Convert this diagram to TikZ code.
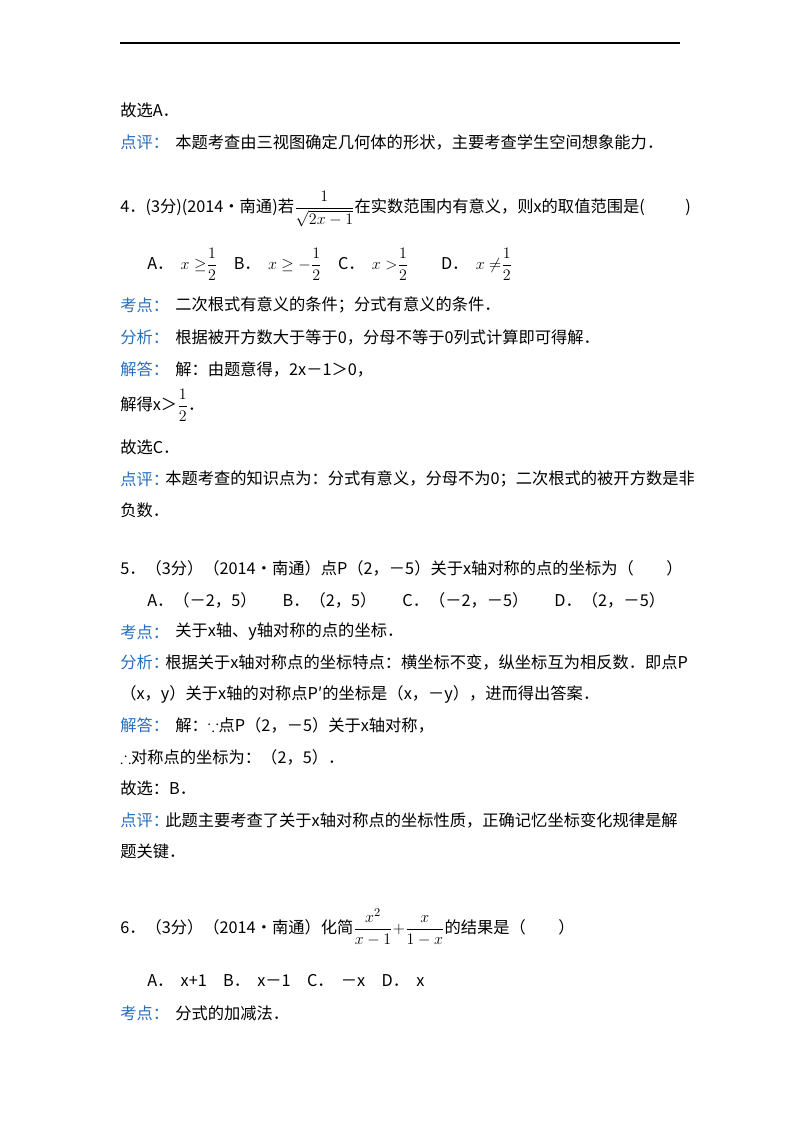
\documentclass[tikz,border=0pt]{standalone}
\usepackage{amsmath,amssymb}
\usepackage{fontspec}
\setmainfont{Noto Sans CJK SC}
\definecolor{kd}{RGB}{40,110,190}
\newcommand{\fr}[2]{\raisebox{0pt}{$\dfrac{#1}{#2}$}}
\begin{document}
\begin{tikzpicture}[x=0.75pt,y=-0.75pt,
  t/.style={anchor=west,inner sep=0pt,font=\fontsize{12.2}{14}\selectfont},
  k/.style={t,text=kd}]
\useasboundingbox (0,0) rectangle (800,1132);
\draw[line width=0.8pt] (120,43) coordinate (l1) -- (680,43) coordinate (l2);
\node[t] (a1) at (120,110) {故选A．};
\node[k] (a2) at (120,142) {点评：};
\node[t] (a3) at (175,142) {本题考查由三视图确定几何体的形状，主要考查学生空间想象能力．};
\node[t] (b1) at (120,209) {4．(3分)(2014•南通)若\fr{1}{\sqrt{2x-1}}在实数范围内有意义，则x的取值范围是(\hspace{2.5em})};
\node[t] (b2) at (147,264) {A．\ \ $x\geq$\fr12\quad B．\ \ $x\geq-$\fr12\quad C．\ \ $x>$\fr12\qquad D．\ \ $x\neq$\fr12};
\node[k] (b3) at (120,305) {考点：};
\node[t] (b4) at (175,305) {二次根式有意义的条件；分式有意义的条件．};
\node[k] (b5) at (120,337) {分析：};
\node[t] (b6) at (175,337) {根据被开方数大于等于0，分母不等于0列式计算即可得解．};
\node[k] (b7) at (120,369) {解答：};
\node[t] (b8) at (175,369) {解：由题意得，2x－1＞0，};
\node[t] (b9) at (120,405) {解得x＞\fr12．};
\node[t] (b10) at (120,447) {故选C．};
\node[k] (b11) at (120,479) {点评：};
\node[t] (b12) at (165,479) {本题考查的知识点为：分式有意义，分母不为0；二次根式的被开方数是非};
\node[t] (b13) at (120,510) {负数．};
\node[t] (c1) at (120,568) {5．（3分）（2014•南通）点P（2，－5）关于x轴对称的点的坐标为（\hspace{2em}）};
\node[t] (c2) at (147,600) {A．（－2，5）\hspace{1.6em}B．（2，5）\hspace{1.6em}C．（－2，－5）\hspace{1.6em}D．（2，－5）};
\node[k] (c3) at (120,632) {考点：};
\node[t] (c4) at (175,632) {关于x轴、y轴对称的点的坐标．};
\node[k] (c5) at (120,662) {分析：};
\node[t] (c6) at (165,662) {根据关于x轴对称点的坐标特点：横坐标不变，纵坐标互为相反数．即点P};
\node[t] (c7) at (120,694) {（x，y）关于x轴的对称点P′的坐标是（x，－y），进而得出答案．};
\node[k] (c8) at (120,725) {解答：};
\node[t] (c9) at (175,725) {解：$\boldsymbol{\because}$点P（2，－5）关于x轴对称，};
\node[t] (c10) at (120,757) {$\boldsymbol{\therefore}$对称点的坐标为：（2，5）．};
\node[t] (c11) at (120,788) {故选：B．};
\node[k] (c12) at (120,820) {点评：};
\node[t] (c13) at (165,820) {此题主要考查了关于x轴对称点的坐标性质，正确记忆坐标变化规律是解};
\node[t] (c14) at (120,851) {题关键．};
\node[t] (d1) at (120,927) {6．（3分）（2014•南通）化简\fr{x^2}{x-1}$+$\fr{x}{1-x}的结果是（\hspace{2em}）};
\node[t] (d2) at (147,981) {A．\ \ x+1\quad B．\ \ x－1\quad C．\ \ －x\quad D．\ \ x};
\node[k] (d3) at (120,1013) {考点：};
\node[t] (d4) at (175,1013) {分式的加减法．};
\end{tikzpicture}
\end{document}
